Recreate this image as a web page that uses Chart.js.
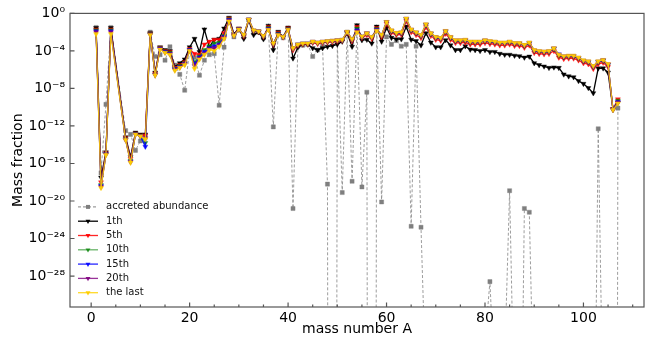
<!DOCTYPE html>
<html>
<head>
<meta charset="utf-8">
<script src="https://cdn.jsdelivr.net/npm/chart.js@4.4.0/dist/chart.umd.min.js"></script>
<style>
  html, body { margin: 0; padding: 0; background: #fff; }
</style>
</head>
<body>
<canvas id="abundanceChart" width="660" height="339"></canvas>
<script>
// mass numbers A = 1 .. 107
const massNumber = Array.from({ length: 107 }, (_, i) => i + 1);

// log10(mass fraction), one value per A (null = no point)
const logAccreted = [
  -1.5, -17.0, -9.7, -1.5, null, null, -12.5, -12.9, -14.6, -13.6,      // 1-10
  -13.2, -2.0, -4.6, -4.4, -5.0, -3.55, -5.5, -6.5, -8.2, -4.0,         // 11-20
  -4.7, -6.6, -5.0, -4.4, -4.3, -9.8, -3.6, -0.7, -2.5, -1.8,           // 21-30
  -2.5, -0.7, -2.0, -2.0, -2.6, -1.6, -12.1, -2.1, -2.6, -1.6,          // 31-40
  -20.8, -3.5, -3.4, -3.3, -4.6, -3.9, -3.5, -18.2, -300, -3.0,         // 41-50
  -19.1, -2.0, -17.9, -1.5, -18.5, -8.4, -300, -1.7, -20.1, -2.5,       // 51-60
  -3.3, -2.9, -3.5, -3.3, -22.7, -3.5, -22.8, -40, -300, -300,          // 61-70
  -300, -300, -300, -300, -300, -300, -300, -300, -300, -35,            // 71-80
  -28.6, -40, -300, -37, -18.9, -44, -63, -20.8, -21.2, -44,            // 81-90
  -300, -300, -300, -300, -300, -300, -300, -300, -300, -300,           // 91-100
  -300, -60, -12.3, -44, -300, -300, -10.1                              // 101-107
];

const logFirst = [
  -1.55, -17.5, -14.8, -1.55, null, null, -13.2, -15.3, -12.7, -12.9,
  -12.9, -2.1, -6.3, -3.6, -3.9, -4.0, -5.7, -5.3, -4.9, -3.6,
  -2.7, -4.1, -1.7, -3.6, -2.8, -2.7, -1.6, -0.45, -2.2, -1.6,
  -2.7, -0.7, -2.3, -2.0, -2.75, -1.3, -3.9, -1.95, -2.5, -1.5,
  -4.8, -3.6, -3.3, -3.3, -3.7, -3.9, -3.7, -3.55, -3.45, -3.3,
  -3.0, -2.1, -3.55, -1.25, -2.85, -2.8, -3.2, -1.4, -3.0, -1.5,
  -2.6, -2.75, -2.75, -1.4, -2.8, -2.95, -3.4, -2.1, -3.1, -3.6,
  -3.6, -2.85, -3.4, -3.9, -3.9, -3.5, -3.85, -3.9, -4.0, -3.9,
  -4.1, -4.1, -4.3, -4.4, -4.4, -4.5, -4.55, -4.7, -4.6, -5.3,
  -5.5, -5.65, -5.8, -5.75, -5.8, -6.5, -6.7, -6.8, -7.2, -7.5,
  -7.95, -8.5, -5.85, -5.85, -6.3, -10.2, -9.5
];

const logFifth = [
  -1.7, -18.0, -14.9, -1.7, null, null, -13.3, -15.5, -12.8, -13.0,
  -13.0, -2.15, -6.4, -3.65, -4.0, -4.1, -5.8, -5.5, -5.2, -3.8,
  -4.3, -4.4, -3.3, -3.0, -2.8, -2.8, -2.1, -0.55, -2.3, -1.62,
  -2.45, -0.67, -1.9, -1.95, -2.5, -1.45, -3.35, -2.05, -2.55, -1.58,
  -3.9, -3.4, -3.3, -3.3, -3.15, -3.25, -3.15, -3.1, -3.05, -3.0,
  -2.9, -2.05, -2.95, -1.45, -2.6, -2.3, -2.7, -1.55, -2.5, -1.1,
  -2.05, -2.3, -2.25, -0.8, -2.0, -2.3, -2.6, -1.45, -2.4, -2.8,
  -2.9, -2.15, -2.8, -3.15, -3.15, -3.1, -3.3, -3.3, -3.3, -3.15,
  -3.25, -3.3, -3.4, -3.4, -3.3, -3.45, -3.45, -3.65, -3.4, -4.2,
  -4.3, -4.35, -4.3, -4.0, -4.7, -4.85, -4.8, -4.8, -5.0, -5.3,
  -5.4, -5.9, -5.4, -5.25, -5.7, -10.2, -9.15
];

const logTenth = [
  -1.8, -18.3, -15.0, -1.8, null, null, -13.4, -15.7, -12.85, -13.05,
  -13.8, -2.2, -6.5, -3.7, -4.05, -4.2, -5.9, -5.6, -5.3, -3.9,
  -5.2, -4.6, -3.9, -3.5, -3.2, -3.1, -2.4, -0.62, -2.35, -1.65,
  -2.35, -0.66, -1.85, -1.92, -2.45, -1.55, -3.25, -2.15, -2.5, -1.65,
  -3.75, -3.32, -3.22, -3.22, -3.05, -3.15, -3.05, -3.0, -2.95, -2.9,
  -2.85, -2.0, -2.8, -1.6, -2.5, -2.15, -2.55, -1.65, -2.35, -0.95,
  -1.9, -2.15, -2.1, -0.62, -1.8, -2.1, -2.4, -1.25, -2.2, -2.6,
  -2.7, -1.95, -2.6, -2.95, -2.95, -2.9, -3.1, -3.1, -3.1, -2.95,
  -3.05, -3.1, -3.2, -3.2, -3.1, -3.25, -3.25, -3.45, -3.2, -4.0,
  -4.1, -4.15, -4.1, -3.8, -4.5, -4.65, -4.6, -4.6, -4.8, -5.1,
  -5.2, -5.7, -5.2, -5.05, -5.5, -10.25, -9.3
];

const logFifteenth = [
  -1.9, -18.4, -15.0, -1.9, null, null, -13.45, -15.8, -12.88, -13.1,
  -14.2, -2.25, -6.55, -3.75, -4.1, -4.3, -5.95, -5.7, -5.4, -3.9,
  -5.4, -4.7, -4.1, -3.7, -3.5, -3.3, -2.5, -0.7, -2.38, -1.68,
  -2.32, -0.65, -1.82, -1.9, -2.42, -1.65, -3.22, -2.22, -2.5, -1.7,
  -3.72, -3.3, -3.2, -3.2, -3.02, -3.12, -3.02, -2.97, -2.92, -2.87,
  -2.82, -1.98, -2.77, -1.8, -2.47, -2.12, -2.52, -1.75, -2.32, -0.92,
  -1.85, -2.1, -2.05, -0.58, -1.75, -2.05, -2.35, -1.2, -2.15, -2.55,
  -2.65, -1.9, -2.55, -2.9, -2.9, -2.85, -3.05, -3.05, -3.05, -2.9,
  -3.0, -3.05, -3.15, -3.15, -3.05, -3.2, -3.2, -3.4, -3.15, -3.95,
  -4.05, -4.1, -4.05, -3.75, -4.35, -4.6, -4.55, -4.55, -4.75, -5.05,
  -5.15, -5.65, -5.15, -5.0, -5.45, -10.25, -9.45
];

const logTwentieth = [
  -2.0, -18.5, -15.05, -2.0, null, null, -13.5, -15.85, -12.9, -13.1,
  -13.3, -2.25, -6.55, -3.8, -4.15, -4.35, -6.0, -5.75, -5.4, -3.95,
  -5.6, -4.8, -4.3, -3.8, -3.7, -3.4, -2.6, -0.75, -2.39, -1.69,
  -2.31, -0.65, -1.81, -1.9, -2.41, -1.7, -3.21, -2.26, -2.5, -1.72,
  -3.71, -3.3, -3.2, -3.2, -3.01, -3.11, -3.01, -2.96, -2.91, -2.86,
  -2.81, -1.97, -2.76, -1.9, -2.46, -2.11, -2.51, -1.8, -2.31, -0.91,
  -1.82, -2.08, -2.02, -0.56, -1.72, -2.02, -2.32, -1.17, -2.12, -2.52,
  -2.62, -1.88, -2.52, -2.87, -2.87, -2.82, -3.02, -3.02, -3.02, -2.87,
  -2.97, -3.02, -3.12, -3.12, -3.02, -3.17, -3.17, -3.37, -3.12, -3.92,
  -4.02, -4.07, -4.02, -3.72, -4.42, -4.57, -4.52, -4.52, -4.72, -5.02,
  -5.12, -5.62, -5.12, -4.97, -5.42, -10.3, -9.5
];

const logLast = [
  -2.2, -18.6, -15.1, -2.2, null, null, -13.5, -15.9, -12.9, -13.1,
  -13.4, -2.3, -6.6, -3.85, -4.2, -4.4, -6.1, -5.8, -5.5, -4.0,
  -5.9, -4.9, -4.4, -3.9, -4.0, -3.55, -2.7, -0.85, -2.4, -1.7,
  -2.3, -0.65, -1.8, -1.9, -2.4, -1.75, -3.2, -2.3, -2.5, -1.75,
  -3.7, -3.3, -3.2, -3.2, -3.0, -3.1, -3.0, -2.95, -2.9, -2.85,
  -2.8, -1.96, -2.75, -2.0, -2.45, -2.1, -2.5, -1.85, -2.3, -0.9,
  -1.8, -2.07, -2.0, -0.55, -1.7, -2.0, -2.3, -1.15, -2.1, -2.5,
  -2.6, -1.86, -2.5, -2.85, -2.85, -2.8, -3.0, -3.0, -3.0, -2.85,
  -2.95, -3.0, -3.1, -3.1, -3.0, -3.15, -3.15, -3.35, -3.1, -3.9,
  -4.0, -4.05, -4.0, -3.7, -4.4, -4.55, -4.5, -4.5, -4.7, -5.0,
  -5.1, -5.6, -5.1, -4.95, -5.4, -10.3, -9.6
];

// tick labels
const xTickValues = [0, 20, 40, 60, 80, 100];
const yTickExponents = [0, -4, -8, -12, -16, -20, -24, -28];

const SUP = { '0': '⁰', '1': '¹', '2': '²', '3': '³', '4': '⁴', '5': '⁵',
  '6': '⁶', '7': '⁷', '8': '⁸', '9': '⁹', '-': '⁻' };
const sup = n => String(n).split('').map(c => SUP[c]).join('');

// styles for each series, in drawing order (first = bottom)
const seriesList = [
  { label: 'accreted abundance', logs: logAccreted, line: 'rgba(140,140,140,0.85)', mark: '#7f7f7f', dash: [3, 2], marker: 'rect' },
  { label: '1th', logs: logFirst, line: '#000000', mark: '#000000', marker: 'tri' },
  { label: '5th', logs: logFifth, line: 'rgba(255,0,0,0.85)', mark: 'rgba(255,0,0,0.9)', marker: 'tri' },
  { label: '10th', logs: logTenth, line: 'rgba(0,128,0,0.6)', mark: 'rgba(0,128,0,0.8)', marker: 'tri' },
  { label: '15th', logs: logFifteenth, line: 'rgba(0,0,255,0.85)', mark: 'rgba(0,0,255,0.9)', marker: 'tri' },
  { label: '20th', logs: logTwentieth, line: 'rgba(128,0,128,0.8)', mark: 'rgba(128,0,128,0.9)', marker: 'tri' },
  { label: 'the last', logs: logLast, line: 'rgba(255,210,0,0.85)', mark: 'rgba(255,205,0,0.95)', marker: 'tri' }
];

const toPoints = logs => massNumber
  .map((a, i) => (logs[i] === null ? null : { x: a, y: Math.pow(10, logs[i]) }))
  .filter(p => p);

function drawMarker(ctx, kind, x, y, r, color) {
  ctx.fillStyle = color;
  ctx.beginPath();
  if (kind === 'rect') {
    const s = r * 0.71;
    ctx.rect(x - s, y - s, 2 * s, 2 * s);
  } else {
    ctx.moveTo(x - r * 0.87, y - r * 0.5);
    ctx.lineTo(x + r * 0.87, y - r * 0.5);
    ctx.lineTo(x, y + r);
    ctx.closePath();
  }
  ctx.fill();
}

// box, inward ticks and the legend
const framePlugin = {
  id: 'frame',
  afterDraw(chart) {
    const { ctx, chartArea, scales } = chart;
    const { left, right, top, bottom } = chartArea;
    ctx.save();
    ctx.strokeStyle = '#555';
    ctx.lineWidth = 1.2;
    ctx.beginPath();
    for (let v = 0; v <= 110; v += 5) {
      const px = scales.x.getPixelForValue(v);
      const len = v % 20 === 0 ? 4.5 : 2.5;
      ctx.moveTo(px, bottom);
      ctx.lineTo(px, bottom - len);
    }
    yTickExponents.forEach(e => {
      const py = scales.y.getPixelForValue(Math.pow(10, e));
      ctx.moveTo(left, py);
      ctx.lineTo(left + 4.5, py);
    });
    ctx.stroke();
    ctx.strokeRect(left, top, right - left, bottom - top);

    // legend, lower left inside the axes
    const rowGap = 14.3;
    ctx.font = "10px 'DejaVu Sans'";
    ctx.textBaseline = 'middle';
    ctx.textAlign = 'left';
    seriesList.forEach((s, i) => {
      const y = bottom - rowGap * (seriesList.length - i);
      const x0 = left + 8;
      ctx.strokeStyle = s.line;
      ctx.lineWidth = 1.3;
      ctx.setLineDash(s.dash || []);
      ctx.beginPath();
      ctx.moveTo(x0, y);
      ctx.lineTo(x0 + 20, y);
      ctx.stroke();
      ctx.setLineDash([]);
      drawMarker(ctx, s.marker, x0 + 10, y, 2.8, s.mark);
      ctx.fillStyle = '#111';
      ctx.fillText(s.label, x0 + 28, y);
    });
    ctx.restore();
  }
};

Chart.defaults.font.family = "'DejaVu Sans', sans-serif";
Chart.defaults.color = '#000';

const ctx = document.getElementById('abundanceChart').getContext('2d');
new Chart(ctx, {
  type: 'line',
  data: {
    datasets: seriesList.map((s, i) => ({
      label: s.label,
      data: toPoints(s.logs),
      borderColor: s.line,
      backgroundColor: s.mark,
      pointBorderColor: s.mark,
      pointBackgroundColor: s.mark,
      borderWidth: i === 0 ? 1 : 1.3,
      borderDash: s.dash || [],
      pointStyle: s.marker === 'rect' ? 'rect' : 'triangle',
      pointRotation: s.marker === 'rect' ? 0 : 180,
      pointRadius: 2.9,
      pointBorderWidth: 0.4,
      tension: 0,
      fill: false,
      order: seriesList.length - i
    }))
  },
  options: {
    responsive: false,
    animation: false,
    devicePixelRatio: 1,
    layout: { padding: { left: 0, right: 16, top: 11.5, bottom: 0 } },
    plugins: {
      legend: { display: false },
      tooltip: { enabled: false }
    },
    scales: {
      x: {
        type: 'linear',
        min: -4.3,
        max: 112.3,
        afterBuildTicks: scale => { scale.ticks = xTickValues.map(v => ({ value: v })); },
        afterFit: scale => { scale.height = 32; },
        grid: { display: false, drawTicks: false },
        border: { display: false },
        ticks: { color: '#000', font: { size: 14 }, padding: 3, maxRotation: 0 },
        title: { display: true, text: 'mass number A', color: '#000', font: { size: 14 }, padding: { top: 0, bottom: 1 } }
      },
      y: {
        type: 'logarithmic',
        min: Math.pow(10, -31.3),
        max: 1,
        afterBuildTicks: scale => { scale.ticks = yTickExponents.map(e => ({ value: Math.pow(10, e) })); },
        afterFit: scale => { scale.width = 70; },
        grid: { display: false, drawTicks: false },
        border: { display: false },
        ticks: {
          color: '#000',
          font: { size: 14 },
          padding: 5,
          callback: v => '10' + sup(Math.round(Math.log10(v)))
        },
        title: { display: true, text: 'Mass fraction', color: '#000', font: { size: 14 }, padding: { top: 10, bottom: 0 } }
      }
    }
  },
  plugins: [framePlugin]
});
</script>
</body>
</html>
